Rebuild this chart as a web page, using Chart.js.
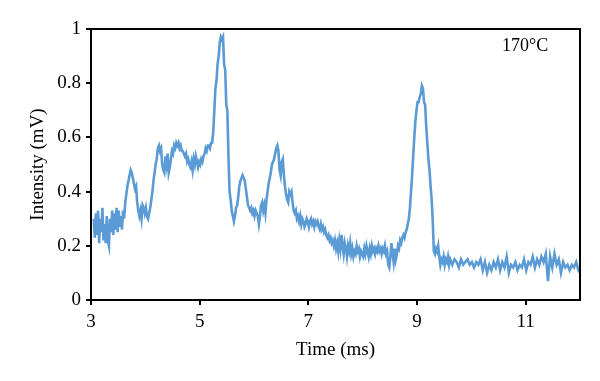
<!DOCTYPE html>
<html>
<head>
<meta charset="utf-8">
<script src="https://cdn.jsdelivr.net/npm/chart.js@4/dist/chart.umd.min.js"></script>
<style>
  body { margin: 0; background: #fff; }
  #wrap { width: 600px; height: 381px; }
</style>
</head>
<body>
<div id="wrap"><canvas id="chart" width="600" height="381"></canvas></div>
<script>
// time (ms) and intensity (mV)
const times = [
  3.05, 3.07, 3.09, 3.11, 3.13, 3.15, 3.17, 3.19, 3.21, 3.23, 3.25, 3.27, 3.29, 3.31, 3.33, 3.35, 3.37, 3.39, 3.41, 3.43,
  3.45, 3.47, 3.49, 3.51, 3.53, 3.55, 3.57, 3.59, 3.61, 3.63, 3.65, 3.67, 3.69, 3.71, 3.73, 3.75, 3.77, 3.79, 3.81, 3.83,
  3.85, 3.87, 3.89, 3.91, 3.93, 3.95, 3.97, 3.99, 4.01, 4.03, 4.05, 4.07, 4.09, 4.11, 4.13, 4.15, 4.17, 4.19, 4.21, 4.23,
  4.25, 4.27, 4.29, 4.31, 4.33, 4.35, 4.37, 4.39, 4.41, 4.43, 4.45, 4.47, 4.49, 4.51, 4.53, 4.55, 4.57, 4.59, 4.61, 4.63,
  4.65, 4.67, 4.69, 4.71, 4.73, 4.75, 4.77, 4.79, 4.81, 4.83, 4.85, 4.87, 4.89, 4.91, 4.93, 4.95, 4.97, 4.99, 5.01, 5.03,
  5.05, 5.07, 5.09, 5.11, 5.13, 5.15, 5.17, 5.19, 5.21, 5.23, 5.25, 5.27, 5.29, 5.31, 5.33, 5.35, 5.37, 5.39, 5.41, 5.43,
  5.45, 5.47, 5.49, 5.51, 5.53, 5.55, 5.57, 5.59, 5.61, 5.63, 5.65, 5.67, 5.69, 5.71, 5.73, 5.75, 5.77, 5.79, 5.81, 5.83,
  5.85, 5.87, 5.89, 5.91, 5.93, 5.95, 5.97, 5.99, 6.01, 6.03, 6.05, 6.07, 6.09, 6.11, 6.13, 6.15, 6.17, 6.19, 6.21, 6.23,
  6.25, 6.27, 6.29, 6.31, 6.33, 6.35, 6.37, 6.39, 6.41, 6.43, 6.45, 6.47, 6.49, 6.51, 6.53, 6.55, 6.57, 6.59, 6.61, 6.63,
  6.65, 6.67, 6.69, 6.71, 6.73, 6.75, 6.77, 6.79, 6.81, 6.83, 6.85, 6.87, 6.89, 6.91, 6.93, 6.95, 6.97, 6.99, 7.01, 7.03,
  7.05, 7.07, 7.09, 7.11, 7.13, 7.15, 7.17, 7.19, 7.21, 7.23, 7.25, 7.27, 7.29, 7.31, 7.33, 7.35, 7.37, 7.39, 7.41, 7.43,
  7.45, 7.47, 7.49, 7.51, 7.53, 7.55, 7.57, 7.59, 7.61, 7.63, 7.65, 7.67, 7.69, 7.71, 7.73, 7.75, 7.77, 7.79, 7.81, 7.83,
  7.85, 7.87, 7.89, 7.91, 7.93, 7.95, 7.97, 7.99, 8.01, 8.03, 8.05, 8.07, 8.09, 8.11, 8.13, 8.15, 8.17, 8.19, 8.21, 8.23,
  8.25, 8.27, 8.29, 8.31, 8.33, 8.35, 8.37, 8.39, 8.41, 8.43, 8.45, 8.47, 8.49, 8.51, 8.53, 8.55, 8.57, 8.59, 8.61, 8.63,
  8.65, 8.67, 8.69, 8.71, 8.73, 8.75, 8.77, 8.79, 8.81, 8.83, 8.85, 8.87, 8.89, 8.91, 8.93, 8.95, 8.97, 8.99, 9.01, 9.03,
  9.05, 9.07, 9.09, 9.11, 9.13, 9.15, 9.17, 9.19, 9.21, 9.23, 9.25, 9.27, 9.29, 9.31, 9.33, 9.35, 9.37, 9.39, 9.41, 9.43,
  9.45, 9.47, 9.49, 9.51, 9.53, 9.55, 9.57, 9.59, 9.61, 9.65, 9.69, 9.73, 9.77, 9.81, 9.85, 9.89, 9.93, 9.97, 10.01, 10.05,
  10.09, 10.13, 10.17, 10.21, 10.25, 10.29, 10.33, 10.37, 10.41, 10.45, 10.49, 10.53, 10.57, 10.61, 10.65, 10.69, 10.73, 10.77, 10.81, 10.85,
  10.89, 10.93, 10.97, 11.01, 11.05, 11.09, 11.13, 11.17, 11.21, 11.25, 11.29, 11.33, 11.37, 11.41, 11.45, 11.49, 11.53, 11.57, 11.61, 11.65,
  11.69, 11.73, 11.77, 11.81, 11.85, 11.89, 11.93, 11.97, 12.0
];
const intensity = [
  0.30, 0.23, 0.32, 0.24, 0.33, 0.21, 0.30, 0.25, 0.34, 0.22, 0.28, 0.21, 0.31, 0.22, 0.20, 0.30, 0.25, 0.33, 0.24, 0.32,
  0.26, 0.34, 0.25, 0.33, 0.27, 0.31, 0.26, 0.33, 0.30, 0.36, 0.39, 0.42, 0.44, 0.46, 0.48, 0.47, 0.45, 0.43, 0.41, 0.42,
  0.36, 0.33, 0.31, 0.33, 0.30, 0.35, 0.34, 0.32, 0.34, 0.31, 0.30, 0.32, 0.34, 0.37, 0.40, 0.44, 0.47, 0.50, 0.52, 0.56,
  0.57, 0.55, 0.56, 0.50, 0.48, 0.47, 0.53, 0.50, 0.54, 0.47, 0.49, 0.52, 0.55, 0.54, 0.57, 0.56, 0.58, 0.57, 0.58, 0.56,
  0.57, 0.55, 0.55, 0.54, 0.53, 0.54, 0.51, 0.52, 0.50, 0.49, 0.51, 0.48, 0.52, 0.50, 0.53, 0.51, 0.49, 0.51, 0.50, 0.52,
  0.51, 0.53, 0.54, 0.56, 0.55, 0.57, 0.57, 0.56, 0.58, 0.58, 0.62, 0.70, 0.78, 0.81, 0.87, 0.90, 0.95, 0.97, 0.96, 0.97,
  0.87, 0.85, 0.72, 0.70, 0.53, 0.40, 0.37, 0.33, 0.31, 0.29, 0.31, 0.34, 0.35, 0.38, 0.42, 0.44, 0.45, 0.46, 0.45, 0.44,
  0.41, 0.38, 0.35, 0.34, 0.33, 0.34, 0.32, 0.33, 0.31, 0.33, 0.32, 0.31, 0.28, 0.31, 0.35, 0.36, 0.33, 0.35, 0.32, 0.37,
  0.40, 0.43, 0.45, 0.47, 0.50, 0.51, 0.52, 0.54, 0.56, 0.57, 0.55, 0.48, 0.46, 0.51, 0.52, 0.46, 0.42, 0.39, 0.37, 0.36,
  0.40, 0.39, 0.40, 0.36, 0.33, 0.32, 0.33, 0.30, 0.31, 0.29, 0.31, 0.28, 0.30, 0.29, 0.27, 0.28, 0.30, 0.29, 0.27, 0.29,
  0.30, 0.28, 0.29, 0.27, 0.29, 0.28, 0.29, 0.27, 0.26, 0.28, 0.26, 0.27, 0.25, 0.26, 0.24, 0.23, 0.24, 0.22, 0.23, 0.21,
  0.22, 0.20, 0.22, 0.19, 0.21, 0.18, 0.22, 0.19, 0.24, 0.20, 0.17, 0.21, 0.19, 0.16, 0.20, 0.18, 0.21, 0.17, 0.19, 0.16,
  0.18, 0.17, 0.20, 0.18, 0.19, 0.16, 0.18, 0.17, 0.16, 0.19, 0.17, 0.20, 0.18, 0.16, 0.19, 0.17, 0.20, 0.18, 0.19, 0.17,
  0.19, 0.18, 0.20, 0.18, 0.19, 0.17, 0.19, 0.18, 0.20, 0.17, 0.18, 0.13, 0.12, 0.16, 0.21, 0.17, 0.14, 0.19, 0.15, 0.17,
  0.20, 0.19, 0.22, 0.21, 0.23, 0.24, 0.23, 0.25, 0.26, 0.28, 0.30, 0.34, 0.40, 0.46, 0.53, 0.60, 0.66, 0.70, 0.73, 0.73,
  0.75, 0.76, 0.79, 0.78, 0.73, 0.72, 0.64, 0.58, 0.52, 0.48, 0.42, 0.37, 0.29, 0.18, 0.17, 0.19, 0.18, 0.20, 0.16, 0.13,
  0.15, 0.14, 0.16, 0.13, 0.15, 0.14, 0.16, 0.13, 0.15, 0.13, 0.15, 0.14, 0.12, 0.15, 0.13, 0.14, 0.15, 0.13, 0.14, 0.12,
  0.14, 0.13, 0.15, 0.11, 0.14, 0.10, 0.13, 0.11, 0.14, 0.12, 0.15, 0.11, 0.14, 0.12, 0.16, 0.10, 0.13, 0.12, 0.14, 0.11,
  0.13, 0.12, 0.15, 0.11, 0.14, 0.13, 0.16, 0.12, 0.15, 0.13, 0.16, 0.14, 0.17, 0.07, 0.16, 0.12, 0.17, 0.13, 0.15, 0.10,
  0.14, 0.12, 0.13, 0.11, 0.13, 0.12, 0.14, 0.11, 0.10
];
const xTicks = [3, 5, 7, 9, 11];
const yTicks = [0, 0.2, 0.4, 0.6, 0.8, 1];
const label = '170°C';

const serif = '"Liberation Serif", "DejaVu Serif", serif';
const fontSize = 19;

// box round the plot area + the temperature label
const framePlugin = {
  id: 'frame',
  afterDraw(chart) {
    const { ctx, chartArea: a } = chart;
    ctx.save();
    ctx.strokeStyle = '#000';
    ctx.lineWidth = 2;
    ctx.strokeRect(a.left, a.top, a.right - a.left, a.bottom - a.top);
    ctx.fillStyle = '#000';
    ctx.font = '18px ' + serif;
    ctx.textAlign = 'left';
    ctx.textBaseline = 'middle';
    ctx.fillText(label, 502, 46);
    ctx.restore();
  }
};

const points = times.map((t, i) => ({ x: t, y: intensity[i] }));

new Chart(document.getElementById('chart'), {
  type: 'line',
  data: {
    datasets: [{
      data: points,
      borderColor: '#5B9BD5',
      borderWidth: 2.6,
      pointRadius: 0,
      tension: 0,
      fill: false
    }]
  },
  options: {
    responsive: false,
    animation: false,
    layout: { padding: { top: 29, right: 20, left: 23, bottom: 16 } },
    plugins: { legend: { display: false }, tooltip: { enabled: false } },
    scales: {
      x: {
        type: 'linear',
        min: 3,
        max: 12,
        afterBuildTicks(s) { s.ticks = xTicks.map(v => ({ value: v })); },
        afterFit(s) { s.height = 65; },
        grid: { drawOnChartArea: false, drawTicks: true, tickLength: 5, color: '#000', lineWidth: 2 },
        border: { display: true, color: '#000', width: 2 },
        ticks: { color: '#000', font: { family: serif, size: fontSize }, padding: 6 },
        title: { display: true, text: 'Time (ms)', color: '#000', font: { family: serif, size: fontSize }, padding: { top: 0 } }
      },
      y: {
        min: 0,
        max: 1,
        afterBuildTicks(s) { s.ticks = yTicks.map(v => ({ value: v })); },
        afterFit(s) { s.width = 68; },
        grid: { drawOnChartArea: false, drawTicks: true, tickLength: 5, color: '#000', lineWidth: 2 },
        border: { display: true, color: '#000', width: 2 },
        ticks: { color: '#000', font: { family: serif, size: fontSize }, padding: 5, callback: v => String(v) },
        title: { display: true, text: 'Intensity (mV)', color: '#000', font: { family: serif, size: fontSize }, padding: { bottom: 2 } }
      }
    }
  },
  plugins: [framePlugin]
});
</script>
</body>
</html>
